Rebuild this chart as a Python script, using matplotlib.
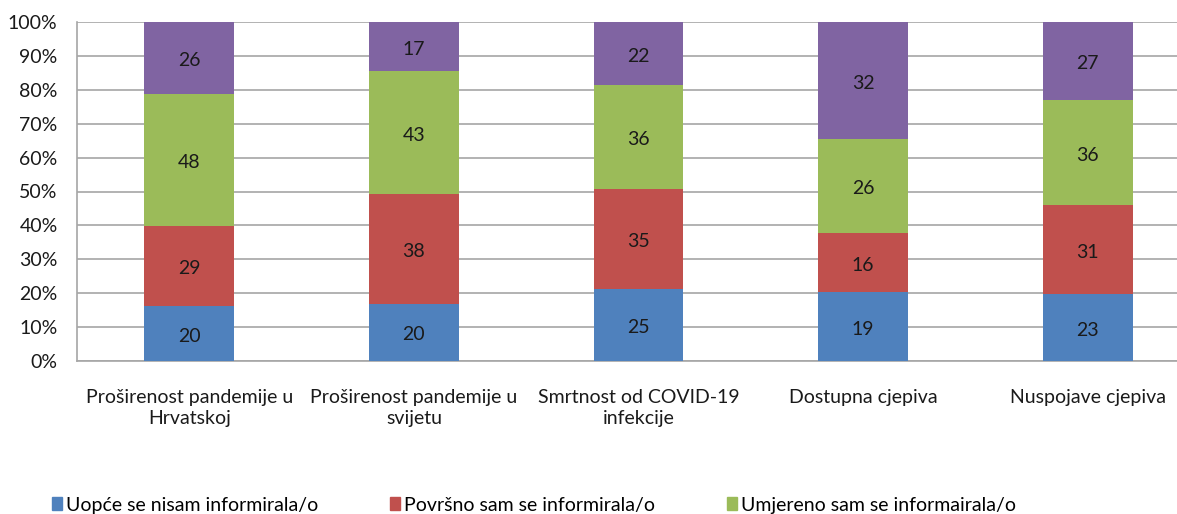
import numpy as np
import matplotlib.pyplot as plt
from matplotlib.patches import Patch

categories = [
    "Proširenost pandemije u\nHrvatskoj",
    "Proširenost pandemije u\nsvijetu",
    "Smrtnost od COVID-19\ninfekcije",
    "Dostupna cjepiva",
    "Nuspojave cjepiva",
]
uopce = [20, 20, 25, 19, 23]
povrsno = [29, 38, 35, 16, 31]
umjereno = [48, 43, 36, 26, 36]
detaljno = [26, 17, 22, 32, 27]

series = [uopce, povrsno, umjereno, detaljno]
labels = [
    "Uopće se nisam informirala/o",
    "Površno sam se informirala/o",
    "Umjereno sam se informairala/o",
    None,
]
colors = ["#4F81BD", "#C0504D", "#9BBB59", "#8064A2"]

plt.rcParams["font.family"] = ["Lato", "DejaVu Sans"]

W, H = 1177, 514
fig = plt.figure(figsize=(W / 100, H / 100), dpi=100)
ax = fig.add_axes([77 / W, (H - 361) / H, (1200 - 77) / W, (361 - 22) / H])

data = np.array(series, dtype=float)
totals = data.sum(axis=0)
pct = data / totals * 100
x = np.arange(len(categories))
bottom = np.zeros(len(categories))
for i in range(len(series)):
    ax.bar(x, pct[i], bottom=bottom, width=0.4, color=colors[i], zorder=3)
    for j in range(len(categories)):
        ax.text(x[j], bottom[j] + pct[i][j] / 2 - 0.8, str(series[i][j]),
                ha="center", va="center", fontsize=14, color="#1a1a1a", zorder=4)
    bottom += pct[i]

ax.set_xlim(-0.5, len(categories) - 0.5)
ax.set_ylim(0, 100)
ax.set_yticks(np.arange(0, 101, 10))
ax.set_yticklabels(["%d%%" % v for v in range(0, 101, 10)])
ax.set_xticks(x)
ax.set_xticklabels(categories, linespacing=1.3)
ax.grid(axis="y", color="#a6a6a6", linewidth=1.2, zorder=0)
ax.tick_params(axis="y", length=0, pad=14, labelsize=14, colors="#1a1a1a")
ax.tick_params(axis="x", length=0, pad=20, labelsize=14, colors="#1a1a1a")
for s in ["top", "right"]:
    ax.spines[s].set_visible(False)
for s in ["left", "bottom"]:
    ax.spines[s].set_color("#a6a6a6")
    ax.spines[s].set_linewidth(1.2)

# legend: one entry each, placed like the original
legend_x = [44, 382, 719]
for k in range(3):
    fig.legend(handles=[Patch(color=colors[k])], labels=[labels[k]],
               loc="center left", bbox_to_anchor=(legend_x[k] / W, 9 / H),
               frameon=False, fontsize=14, handlelength=0.5, handleheight=0.6,
               handletextpad=0.25, borderaxespad=0)

fig.savefig("out.png", dpi=100)
